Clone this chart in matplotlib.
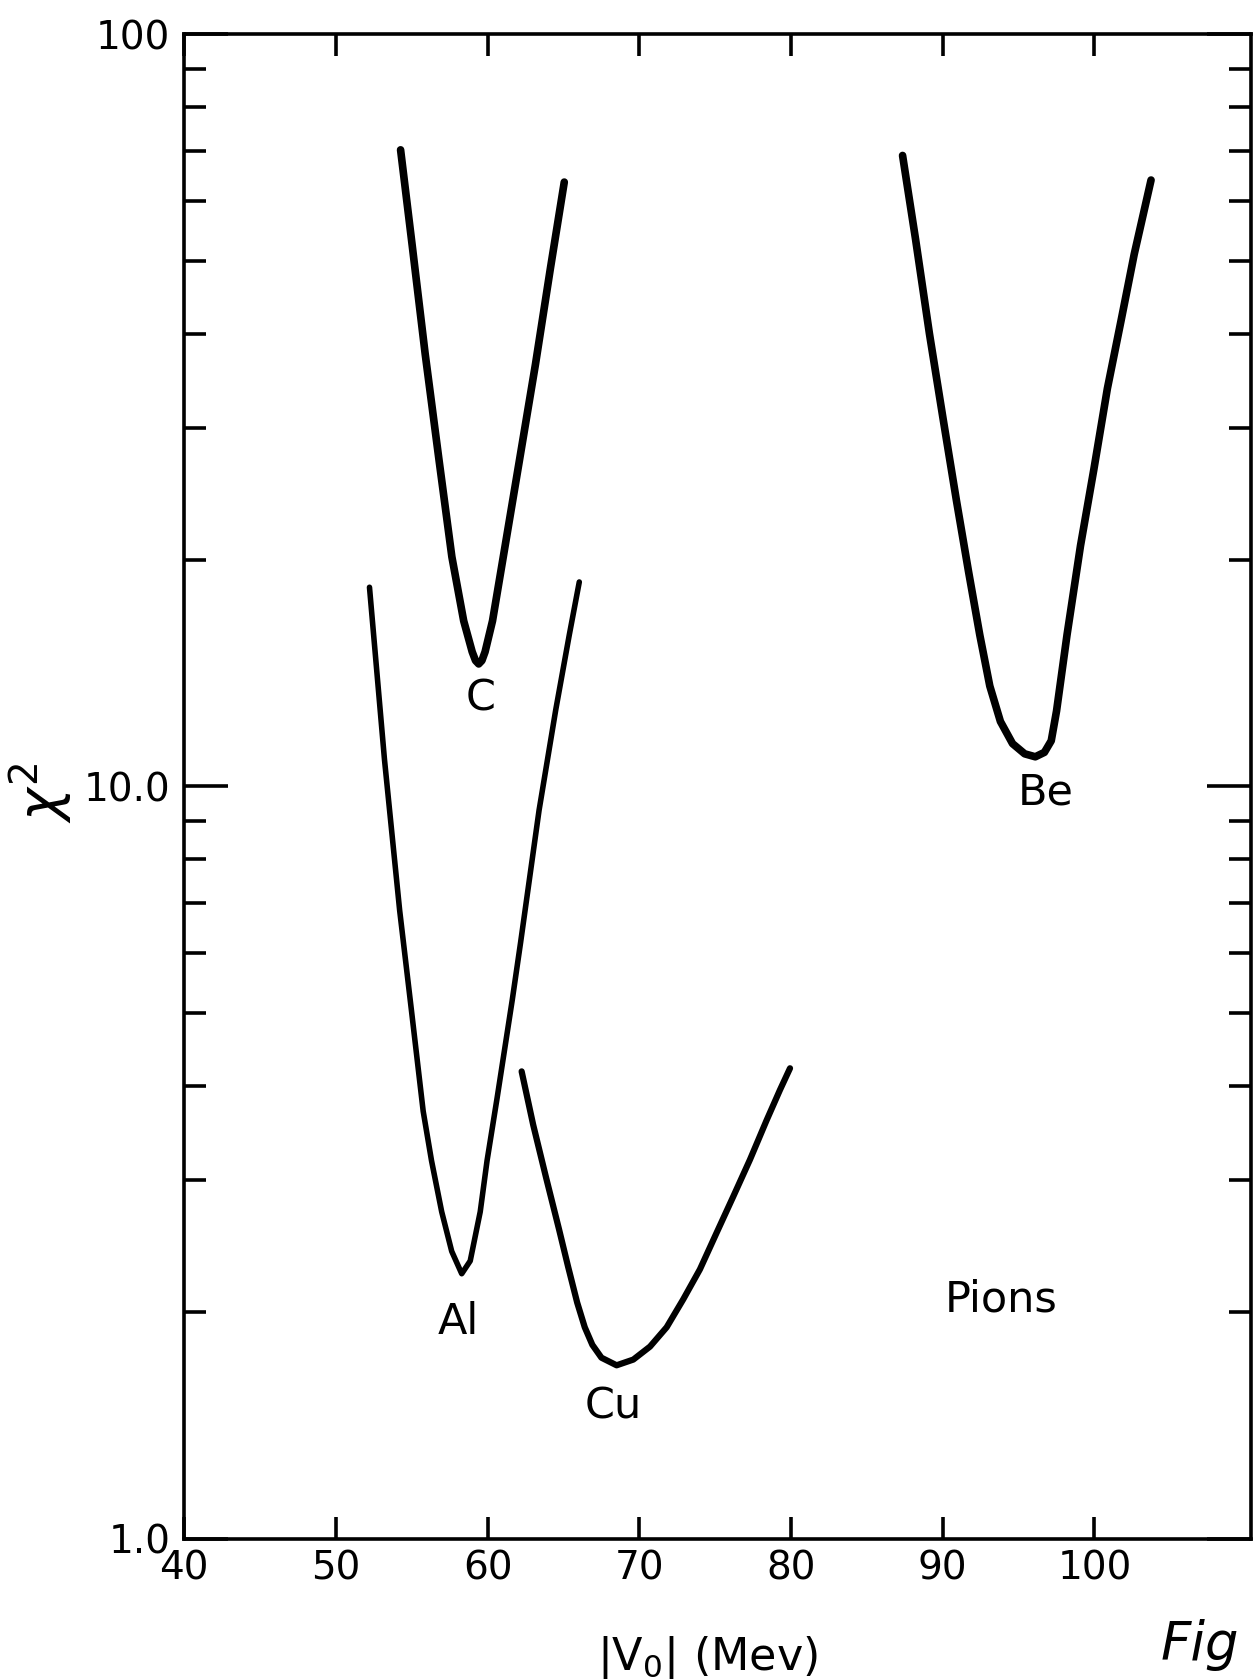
import numpy as np
import matplotlib.pyplot as plt
from matplotlib.ticker import FixedLocator, NullFormatter

# chi^2 vs |V0| curves
c_v = [54.26, 55.03, 55.88, 56.80, 57.64, 58.42, 58.98, 59.2, 59.41, 59.62, 59.83, 60.32, 61.03, 62.09, 63.15, 64.14, 65.05]
c_chi2 = [70.2, 52.3, 37.6, 27.1, 20.2, 16.6, 15.1, 14.7, 14.55, 14.7, 15.1, 16.6, 20.2, 27.1, 36.4, 48.9, 63.6]

be_v = [87.35, 88.2, 89.12, 90.0, 90.9, 91.7, 92.44, 93.1, 93.8, 94.6, 95.4, 96.1, 96.7, 97.15, 97.5, 98.19, 99.08, 99.96, 100.85, 101.74, 102.62, 103.73]
be_chi2 = [69.0, 53.5, 40.0, 31.0, 24.0, 19.3, 15.9, 13.6, 12.2, 11.4, 11.05, 10.95, 11.1, 11.5, 12.6, 15.9, 20.9, 26.4, 33.8, 41.5, 51.0, 64.0]

al_v = [52.21, 53.20, 54.20, 54.98, 55.75, 56.30, 56.97, 57.63, 58.29, 58.85, 59.51, 59.96, 60.62, 61.62, 62.17, 63.39, 64.49, 65.38, 66.04]
al_chi2 = [18.4, 10.85, 6.84, 5.03, 3.70, 3.18, 2.72, 2.41, 2.25, 2.34, 2.72, 3.18, 3.85, 5.2, 6.2, 9.30, 12.65, 15.9, 18.7]

cu_v = [62.24, 63.0, 63.85, 64.7, 65.3, 65.9, 66.4, 66.9, 67.5, 68.50, 69.60, 70.70, 71.80, 72.89, 73.99, 75.09, 76.19, 77.29, 78.39, 79.27, 79.93]
cu_chi2 = [4.18, 3.55, 3.02, 2.58, 2.30, 2.06, 1.91, 1.81, 1.74, 1.70, 1.73, 1.80, 1.91, 2.08, 2.28, 2.55, 2.85, 3.19, 3.60, 3.95, 4.22]

x_ticks = [40, 50, 60, 70, 80, 90, 100]
y_ticks = [1, 10, 100]
y_ticklabels = ["1.0", "10.0", "100"]

fig = plt.figure(figsize=(12.56, 16.79), dpi=100)
ax = fig.add_axes([0.1467, 0.0836, 0.8491, 0.8960])

ax.plot(c_v, c_chi2, color='k', lw=5.5, solid_capstyle='round', solid_joinstyle='round')
ax.plot(be_v, be_chi2, color='k', lw=5.5, solid_capstyle='round', solid_joinstyle='round')
ax.plot(al_v, al_chi2, color='k', lw=4.0, solid_capstyle='round', solid_joinstyle='round')
ax.plot(cu_v, cu_chi2, color='k', lw=4.5, solid_capstyle='round', solid_joinstyle='round')

ax.set_yscale('log')
ax.set_xlim(40, 110.3)
ax.set_ylim(1, 100)

ax.set_xticks(x_ticks)
ax.set_xticklabels([str(v) for v in x_ticks])
ax.set_yticks(y_ticks)
ax.set_yticklabels(y_ticklabels)
ax.yaxis.set_minor_locator(FixedLocator([2, 3, 4, 5, 6, 7, 8, 9, 20, 30, 40, 50, 60, 70, 80, 90]))
ax.yaxis.set_minor_formatter(NullFormatter())

for s in ax.spines.values():
    s.set_linewidth(2.6)
ax.tick_params(axis='x', which='major', direction='in', top=True, length=16, width=2.6,
               labelsize=28, pad=8)
ax.tick_params(axis='y', which='major', direction='in', right=True, length=32, width=2.6,
               labelsize=28, pad=10)
ax.tick_params(axis='y', which='minor', direction='in', right=True, length=16, width=2.6)

ax.text(59.55, 13.1, "C", fontsize=31, ha='center', va='center')
ax.text(58.07, 1.94, "Al", fontsize=31, ha='center', va='center')
ax.text(68.30, 1.50, "Cu", fontsize=31, ha='center', va='center')
ax.text(96.81, 9.82, "Be", fontsize=31, ha='center', va='center')
ax.text(93.85, 2.08, "Pions", fontsize=31, ha='center', va='center')

fig.text(0.033, 0.528, r'$\chi^2$', fontsize=40, rotation=90, ha='center', va='center')
fig.text(0.563, 0.0125, r'$\mathregular{|V_0|}$ (Mev)', fontsize=32, ha='center', va='center')
fig.text(0.955, 0.02, "Fig", fontsize=38, style='italic', ha='center', va='center')

fig.savefig('out.png', dpi=100)
